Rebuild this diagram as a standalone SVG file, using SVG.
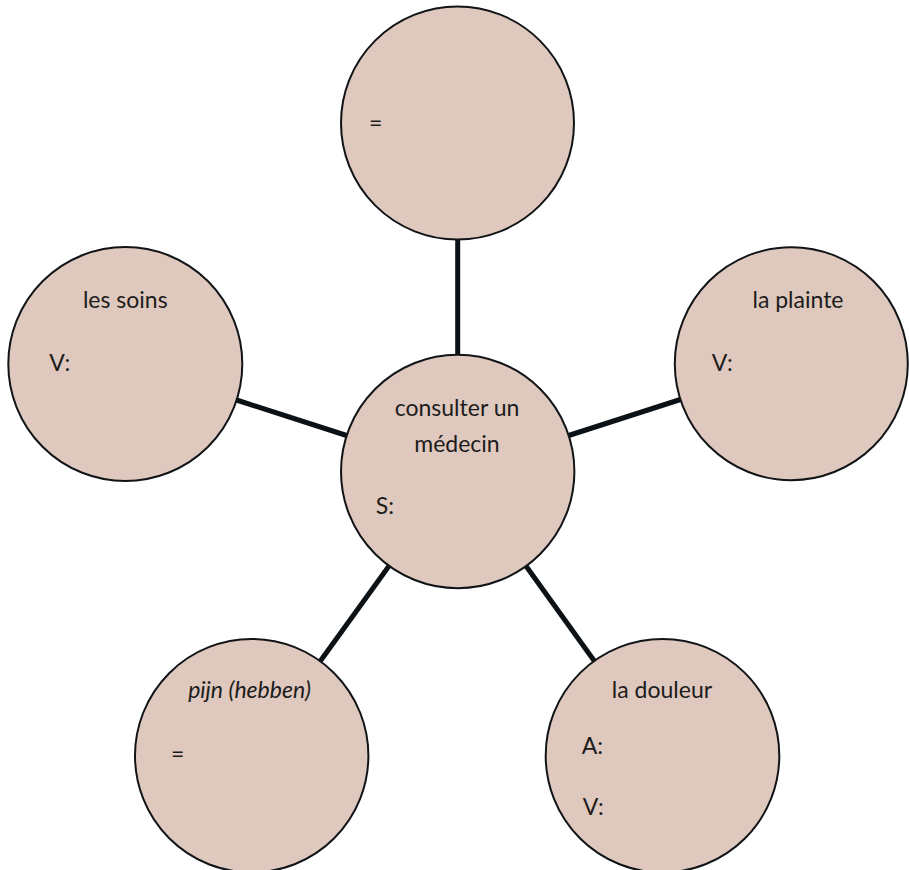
<svg xmlns="http://www.w3.org/2000/svg" width="909" height="870" viewBox="0 0 909 870">
<style>
.node{fill:#dfc8bd;stroke:#111417;stroke-width:2}
.edge{stroke:#0b1114;stroke-width:5;fill:none}
text{font-family:Lato,"Liberation Sans",sans-serif;font-size:23px;fill:#1c1c1c}
.c{text-anchor:middle}
.i{font-style:italic}
</style>
<rect width="909" height="870" fill="#ffffff"/>
<g id="connectors">
<line class="edge" x1="457.7" y1="239" x2="457.7" y2="355"/>
<line class="edge" x1="236.6" y1="400" x2="346.6" y2="435.5"/>
<line class="edge" x1="680.4" y1="399.5" x2="568.7" y2="435.5"/>
<line class="edge" x1="320.2" y1="661.2" x2="389" y2="566"/>
<line class="edge" x1="594.5" y1="661.2" x2="526" y2="566"/>
</g>
<g id="node-top">
<circle class="node" cx="457.5" cy="123" r="116.5"/>
<text x="369" y="131">=</text>
</g>
<g id="node-left">
<circle class="node" cx="125.3" cy="364" r="117"/>
<text class="c" x="125.3" y="308">les soins</text>
<text x="49.3" y="370.7">V:</text>
</g>
<g id="node-right">
<circle class="node" cx="791.3" cy="363.7" r="116.5"/>
<text class="c" x="798" y="308">la plainte</text>
<text x="711.7" y="370.7">V:</text>
</g>
<g id="node-center">
<circle class="node" cx="457.7" cy="471.5" r="116.7"/>
<text class="c" x="457" y="416">consulter un</text>
<text class="c" x="457" y="451.7">médecin</text>
<text x="375.7" y="514">S:</text>
</g>
<g id="node-bottom-left">
<circle class="node" cx="251.7" cy="755.7" r="116.7"/>
<text class="c i" x="249.5" y="698.3">pijn (hebben)</text>
<text x="171" y="762">=</text>
</g>
<g id="node-bottom-right">
<circle class="node" cx="662.5" cy="755.7" r="116.8"/>
<text class="c" x="662" y="698.3">la douleur</text>
<text x="581.7" y="754">A:</text>
<text x="582.7" y="815">V:</text>
</g>
</svg>
